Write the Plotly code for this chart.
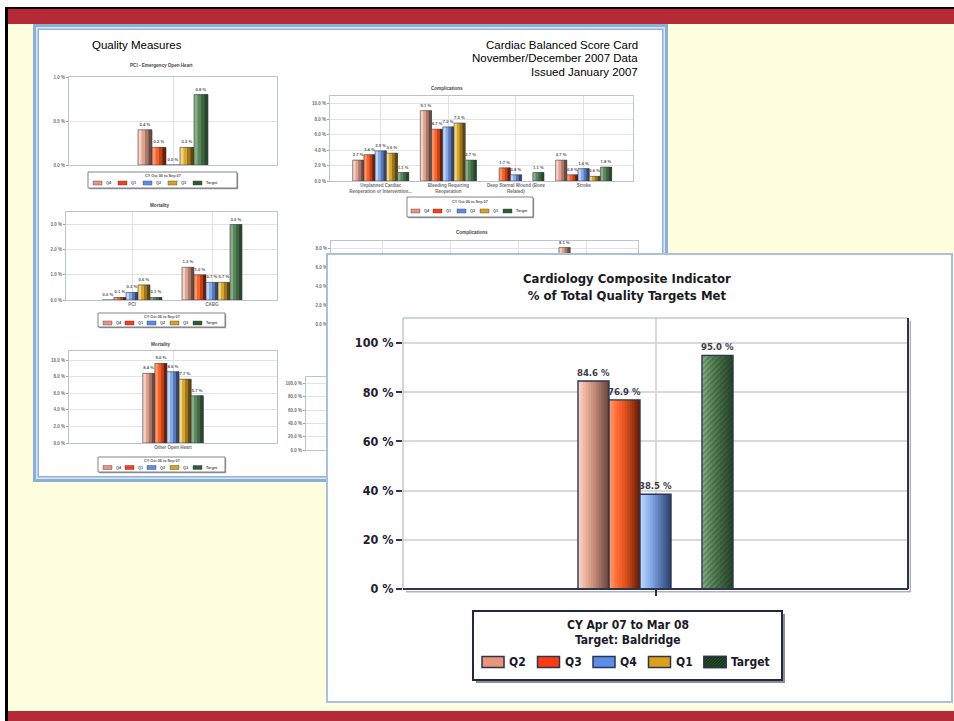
import plotly.graph_objects as go

W, H = 954, 721

# ---------------- data ----------------
main_series = ["Q2", "Q3", "Q4", "Q1", "Target"]
main_values = [84.6, 76.9, 38.5, None, 95.0]
main_title = "Cardiology Composite Indicator<br>% of Total Quality Targets Met"
main_legend_title = ["CY Apr 07 to Mar 08", "Target: Baldridge"]
main_ticks = [0, 20, 40, 60, 80, 100]

mini_series = ["Q4", "Q1", "Q2", "Q3", "Target"]
mini_legend_title = "CY Oct 06 to Sep 07"

# PCI - Emergency Open Heart (one value per mini series)
pci_emergency = [0.4, 0.2, 0.0, 0.2, 0.8]

# Complications
comp_categories = ["Unplanned Cardiac<br>Reoperation or Intervention...",
                   "Bleeding Requiring<br>Reoperation",
                   "Deep Sternal Wound (Bone<br>Related)",
                   "Stroke"]
comp_q4 = [2.7, 9.1, None, 2.7]
comp_q1 = [3.4, 6.7, 1.7, 0.8]
comp_q2 = [3.9, 7.0, 0.8, 1.6]
comp_q3 = [3.6, 7.5, None, 0.6]
comp_target = [1.1, 2.7, 1.1, 1.8]

# Mortality: PCI / CABG
mort_categories = ["PCI", "CABG"]
mort_q4 = [0.0, 1.3]
mort_q1 = [0.1, 1.0]
mort_q2 = [0.3, 0.7]
mort_q3 = [0.6, 0.7]
mort_target = [0.1, 3.0]

# Mortality: Other Open Heart (one value per mini series)
ooh_category = ["Other Open Heart"]
ooh_values = [8.4, 9.6, 8.6, 7.7, 5.7]

# Second complications panel (only the Q4 stroke bar clears the overlay)
comp2_q4 = [None, None, None, 8.1]

# ---------------- styling ----------------
NARROW = "Liberation Sans Narrow, DejaVu Sans Condensed, Arial Narrow, sans-serif"
ARIAL = "Liberation Sans, Arial, sans-serif"

ramps = [
    ["#F7D2C4", "#E8AD97", "#C88E7B", "#9B6D5F", "#6B4A41"],   # pink
    ["#FF9465", "#FF6A34", "#E4541F", "#A93A15", "#6A1E08"],   # red-orange
    ["#BCD5FB", "#92B6F0", "#6F93D2", "#4E6AA3", "#33466F"],   # blue
    ["#F4D47A", "#E0B040", "#C09020", "#8C6A18", "#5E4610"],   # gold
    ["#86AE86", "#628E62", "#4B754C", "#3A5E3C", "#2A462C"],   # green
]
swatch_colors = ["#E8957A", "#FF3B14", "#5B8FE7", "#DBA11A", "#2E5E30"]
hatch = dict(shape="/", size=4, solidity=0.4, fgcolor="rgba(15,40,15,0.6)")


def px(x):
    return x / W


def py(y):
    return 1 - y / H


def dom_x(x0, x1):
    return [x0 / W, x1 / W]


def dom_y(top, bottom):
    return [1 - bottom / H, 1 - top / H]


def hex_rgb(h):
    h = h.lstrip("#")
    return [int(h[i:i + 2], 16) for i in (0, 2, 4)]


def ramp_color(stops, t):
    pos = t * (len(stops) - 1)
    i = min(int(pos), len(stops) - 2)
    f = pos - i
    a, b = hex_rgb(stops[i]), hex_rgb(stops[i + 1])
    c = [round(a[k] + (b[k] - a[k]) * f) for k in range(3)]
    return "rgb(%d,%d,%d)" % tuple(c)


fig = go.Figure()


def add_gradient_bars(xs, ys, offset, width, stops, ax, n_slices,
                      edge_color, edge_width, text_size, text_color,
                      text_family, pattern=None):
    """Bar with a left-to-right shading: each slice runs to the bar's right
    edge and the next one is laid over it, so no seams show."""
    xa, ya = ax
    step = width / n_slices
    for k in range(n_slices):
        t = k / (n_slices - 1)
        fig.add_trace(go.Bar(
            x=xs, y=ys, offset=offset + k * step, width=width - k * step,
            marker=dict(color=ramp_color(stops, t), line=dict(width=0)),
            xaxis=xa, yaxis=ya, showlegend=False, hoverinfo="skip"))
    labels = ["%.1f %%" % v if v is not None else "" for v in ys]
    marker = dict(color="rgba(0,0,0,0)",
                  line=dict(color=edge_color, width=edge_width))
    if pattern:
        marker["pattern"] = pattern
    fig.add_trace(go.Bar(
        x=xs, y=ys, offset=offset, width=width, marker=marker,
        text=labels, textposition="outside", constraintext="none",
        cliponaxis=False,
        textfont=dict(size=text_size, color=text_color, family=text_family,
                      weight="bold"),
        xaxis=xa, yaxis=ya, showlegend=False, hoverinfo="skip"))


def axes(n):
    return ("x" if n == 1 else "x%d" % n, "y" if n == 1 else "y%d" % n)


def mini_group(ax, xs, series_values, bar_w):
    for i, vals in enumerate(series_values):
        add_gradient_bars(xs, vals, -2.5 * bar_w + i * bar_w, bar_w,
                          ramps[i], ax, 4, "#3A3A48", 0.6, 4.2, "#555555",
                          ARIAL)


# ---------------- background scorecard charts ----------------
# A: PCI - Emergency Open Heart
mini_group(axes(1), [0], [[v] for v in pci_emergency], 14 / 208)
# B: Complications
mini_group(axes(2), [0, 1, 2, 3],
           [comp_q4, comp_q1, comp_q2, comp_q3, comp_target], 11.2 / 67.6)
# C: Mortality PCI / CABG
mini_group(axes(3), [0, 1],
           [mort_q4, mort_q1, mort_q2, mort_q3, mort_target], 12 / 80)
# D: Mortality Other Open Heart
mini_group(axes(4), [0], [[v] for v in ooh_values], 12.1 / 208)
# E: second complications panel
bw_e = 11.2 / 68.3
add_gradient_bars([0, 1, 2, 3], comp2_q4, -2.5 * bw_e, bw_e, ramps[0],
                  axes(5), 4, "#3A3A48", 0.6, 4.2, "#555555", ARIAL)
# F and the overlay panel need a trace each so the subplots exist
fig.add_trace(go.Scatter(x=[], y=[], xaxis="x6", yaxis="y6", showlegend=False))
fig.add_trace(go.Scatter(x=[], y=[], xaxis="x7", yaxis="y7", showlegend=False))

# ---------------- main chart ----------------
bw = 31 / 505
for i, (name, v) in enumerate(zip(main_series, main_values)):
    if v is None:
        continue
    add_gradient_bars([0], [v], -2.5 * bw + i * bw, bw, ramps[i], axes(8),
                      12, "#2B3552", 1.4, 9.5, "#3B3B48", NARROW,
                      pattern=hatch if name == "Target" else None)

# ---------------- axes ----------------
tiny = dict(family=ARIAL, size=4.5, color="#707070", weight="bold")
grid_c = "#E2E2E2"
frame_c = "#B9C3D4"


def mini_axes(n, box, xrange, yrange, dtick, tickvals, ticktext=None):
    x0, x1, top, bottom = box
    xk = "xaxis" if n == 1 else "xaxis%d" % n
    yk = "yaxis" if n == 1 else "yaxis%d" % n
    xa, ya = axes(n)
    lay = {
        xk: dict(domain=dom_x(x0, x1), range=xrange, anchor=ya,
                 tickvals=tickvals, ticktext=ticktext,
                 showticklabels=ticktext is not None, ticks="",
                 showgrid=True, gridcolor=grid_c, gridwidth=0.8,
                 zeroline=False, showline=True, mirror=True,
                 linecolor=frame_c, linewidth=1, tickfont=tiny,
                 fixedrange=True, automargin=False),
        yk: dict(domain=dom_y(top, bottom), range=yrange, anchor=xa,
                 dtick=dtick, tick0=0, tickformat=".1f", ticksuffix=" %",
                 ticks="outside", ticklen=2, tickcolor="#A0A0A0",
                 showgrid=True, gridcolor=grid_c, gridwidth=0.8,
                 zeroline=False, showline=True, mirror=True,
                 linecolor=frame_c, linewidth=1, tickfont=tiny,
                 fixedrange=True, automargin=False),
    }
    fig.update_layout(**lay)


mini_axes(1, (69, 277, 77, 165), [-0.5, 0.5], [0, 1.0], 0.5, [0])
mini_axes(2, (330, 633, 96, 181), [-0.75, 3.73], [0, 11], 2.0,
          [0, 1, 2, 3], comp_categories)
mini_axes(3, (66, 277, 212, 300), [-0.825, 1.8125], [0, 3.5], 1.0,
          [0, 1], mort_categories)
mini_axes(4, (69, 277, 351, 443), [-0.5, 0.5], [0, 11.1], 2.0,
          [0], ooh_category)
mini_axes(5, (331, 638, 241, 324), [-0.747, 3.747], [0, 8.8], 2.0,
          [0, 1, 2, 3])
mini_axes(6, (306, 620, 377, 450), [0, 1], [0, 110], 20, [])

# overlay panel
fig.update_layout(
    xaxis7=dict(domain=dom_x(328, 951), range=[0, 1], anchor="y7",
                showticklabels=False, ticks="", showgrid=False,
                zeroline=False, showline=True, mirror=True,
                linecolor="#A9C2D9", linewidth=2, fixedrange=True,
                automargin=False),
    yaxis7=dict(domain=dom_y(255, 701), range=[0, 1], anchor="x7",
                showticklabels=False, ticks="", showgrid=False,
                zeroline=False, showline=True, mirror=True,
                linecolor="#A9C2D9", linewidth=2, fixedrange=True,
                automargin=False),
)

# main chart axes
fig.update_layout(
    xaxis8=dict(domain=dom_x(403, 908), range=[-0.5, 0.5], anchor="y8",
                tickvals=[0], showticklabels=False, ticks="outside",
                ticklen=6, tickcolor="#2B3552", tickwidth=1.5,
                showgrid=True, gridcolor="#D9D9D9", gridwidth=2,
                zeroline=False, showline=False, fixedrange=True,
                automargin=False),
    yaxis8=dict(domain=dom_y(318, 589), range=[0, 110.2], anchor="x8",
                tickvals=main_ticks,
                ticktext=["%d %%" % v for v in main_ticks],
                ticks="outside",
                ticklen=6, tickcolor="#2B3552", tickwidth=1.5,
                showgrid=True, gridcolor="#D9D9D9", gridwidth=2,
                zeroline=False, showline=False, fixedrange=True,
                automargin=False,
                tickfont=dict(family=NARROW, size=12.5, color="#1E2030",
                              weight="bold")),
)

# ---------------- shapes ----------------
shapes = []


def rect(x0, y0, x1, y1, fill, line_color=None, line_width=0, layer="below"):
    shapes.append(dict(type="rect", xref="paper", yref="paper",
                       x0=px(x0), x1=px(x1), y0=py(y0), y1=py(y1),
                       fillcolor=fill, layer=layer,
                       line=dict(color=line_color or "rgba(0,0,0,0)",
                                 width=line_width)))


def line(x0, y0, x1, y1, color, width, layer="above"):
    shapes.append(dict(type="line", xref="paper", yref="paper",
                       x0=px(x0), x1=px(x1), y0=py(y0), y1=py(y1),
                       layer=layer, line=dict(color=color, width=width)))


# slide background and bands
rect(5, 7, W, H, "#FFFFE0")
rect(5, 7, W, 9, "#000000")
rect(5, 7, 8, H, "#000000")
rect(8, 9, W, 24, "#B52A37")
rect(8, 711, W, H, "#B52A37")

# scorecard sheet with double blue frame
rect(33, 24, 668, 482, "#8AB0D8")
rect(36, 27, 665, 479, "#DCE7F3")
rect(37.5, 28.5, 663.5, 477.5, "#8FB3DA")
rect(39, 30, 662, 476, "#FFFFFF")

annots = []


def text(x, y, s, size, color="#444444", family=ARIAL, anchor="center",
         weight="bold"):
    annots.append(dict(x=px(x), y=py(y), xref="paper", yref="paper",
                       text=s, showarrow=False, xanchor=anchor,
                       yanchor="middle",
                       font=dict(family=family, size=size, color=color,
                                 weight=weight)))


def mini_legend(box, title_y, item_y, swatch_x):
    x0, y0, x1, y1 = box
    rect(x0 + 1.2, y0 + 1.2, x1 + 1.2, y1 + 1.2, "rgba(60,60,70,0.45)")
    rect(x0, y0, x1, y1, "#FFFFFF", "#4A5060", 0.7)
    text((x0 + x1) / 2, title_y, mini_legend_title, 3.8, "#555555")
    for i, sx in enumerate(swatch_x):
        rect(sx, item_y - 2, sx + 9, item_y + 2, swatch_colors[i],
             "#3A3A48", 0.4)
        text(sx + 10.5, item_y, mini_series[i], 3.8, "#555555",
             anchor="left")


mini_legend((88, 172, 237, 188), 176, 183, [93, 118, 143, 168, 193])
mini_legend((407, 197, 533, 217), 202, 211, [411, 433, 457, 480, 503])
mini_legend((98, 313, 225, 327), 316.5, 323, [103, 125, 147, 170, 193])
mini_legend((98, 457, 225, 472), 460.5, 467.5, [103, 125, 147, 170, 193])

# mini chart titles
text(161, 66, "PCI - Emergency Open Heart", 4.6)
text(447, 89, "Complications", 4.6)
text(160, 205, "Mortality", 4.6)
text(161, 344, "Mortality", 4.6)
text(472, 232, "Complications", 4.6)

# scorecard header
text(90, 45, "Quality Measures", 11.5, "#000000", ARIAL, "left", "normal")
text(640, 45, "Cardiac Balanced Score Card", 11.5, "#000000", ARIAL,
     "right", "normal")
text(640, 58.5, "November/December 2007 Data", 11.5, "#000000", ARIAL,
     "right", "normal")
text(640, 72, "Issued January 2007", 11.5, "#000000", ARIAL, "right",
     "normal")

# main chart title
annots.append(dict(x=px(627), y=py(287), xref="paper", yref="paper",
                   text=main_title, showarrow=False, xanchor="center",
                   yanchor="middle",
                   font=dict(family=NARROW, size=13, color="#1A1A22",
                             weight="bold")))

# main plot frame: light top/left, dark shadowed bottom/right
for (x0, y0, x1, y1, c, w) in [
        (0, 1, 1, 1, "#A3ABBC", 1), (0, 0, 0, 1, "#A3ABBC", 1),
        (0, 0, 1, 0, "#2B3552", 2), (1, 0, 1, 1, "#2B3552", 2)]:
    shapes.append(dict(type="line", xref="x8 domain", yref="y8 domain",
                       x0=x0, x1=x1, y0=y0, y1=y1, layer="above",
                       line=dict(color=c, width=w)))
line(406, 591.8, 910.5, 591.8, "rgba(40,40,50,0.35)", 1.5)
line(910.3, 321, 910.3, 591.8, "rgba(40,40,50,0.35)", 1.5)

# ---------------- main legend box ----------------
LEG = dict(x0=473, y0=611, x1=782, y1=680)
rect(LEG["x0"] + 3, LEG["y0"] + 3, LEG["x1"] + 3, LEG["y1"] + 3,
     "rgba(50,50,60,0.55)", layer="above")
rect(LEG["x0"], LEG["y0"], LEG["x1"], LEG["y1"], "#FFFFFF", "#1F2940", 2,
     layer="above")
legend_font = dict(family=NARROW, size=12, color="#1A1A28", weight="bold")
leg_cx = (LEG["x0"] + LEG["x1"]) / 2
for k, s in enumerate(main_legend_title):
    annots.append(dict(x=px(leg_cx), y=py(625 + 15 * k), xref="paper",
                       yref="paper", text=s, showarrow=False,
                       xanchor="center", yanchor="middle", font=legend_font))

item_y = 662
sw_w, sw_h = 22, 11
for i, name in enumerate(main_series):
    sx = 482 + 55.5 * i
    top, bottom = item_y - sw_h / 2, item_y + sw_h / 2
    rect(sx, top, sx + sw_w, bottom, swatch_colors[i], "#2B3552", 1.5,
         layer="above")
    if name == "Target":
        # diagonal hatching clipped to the swatch
        a = sx - sw_h
        while a < sx + sw_w:
            ylo = max(top, bottom - (sx + sw_w - a))
            yhi = min(bottom, bottom - (sx - a))
            if yhi > ylo:
                line(a + bottom - yhi, yhi, a + bottom - ylo, ylo,
                     "#163016", 1.1)
            a += 3
        rect(sx, top, sx + sw_w, bottom, "rgba(0,0,0,0)", "#2B3552", 1.5,
             layer="above")
    annots.append(dict(x=px(sx + sw_w + 3), y=py(item_y), xref="paper",
                       yref="paper", text=name, showarrow=False,
                       xanchor="left", yanchor="middle", font=legend_font))

fig.update_layout(
    width=W, height=H,
    margin=dict(l=0, r=0, t=0, b=0, pad=0, autoexpand=False),
    paper_bgcolor="#FFFFFF", plot_bgcolor="#FEFEFE",
    barmode="overlay", showlegend=False,
    shapes=shapes, annotations=annots,
)

fig.write_html("out.html")
